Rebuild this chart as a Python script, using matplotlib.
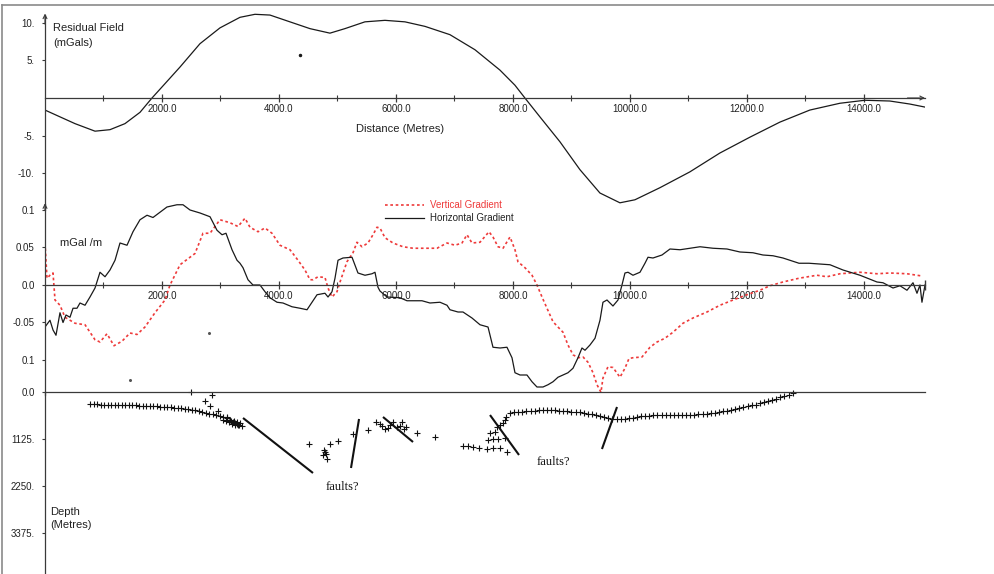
import matplotlib
matplotlib.use('Agg')
import matplotlib.pyplot as plt
from matplotlib.lines import Line2D
import numpy as np

plt.rcParams['font.family'] = ['Liberation Sans', 'DejaVu Sans']

# ---------------- DATA ----------------
# Residual field (top panel)
res_dist = [0, 256, 513, 855, 1111, 1367, 1624, 1829, 2051, 2307, 2649, 2991, 3333, 3589,
            3846, 4187, 4529, 4871, 5127, 5469, 5811, 6153, 6495, 6922, 7350, 7777, 8033,
            8204, 8460, 8802, 9144, 9486, 9828, 10084, 10511, 11023, 11536, 12049, 12562,
            13074, 13587, 14014, 14441, 14783, 15040]
res_field = [-1.6, -2.5, -3.4, -4.4, -4.2, -3.4, -1.9, 0.0, 1.9, 4.1, 7.2, 9.3, 10.7, 11.1,
             11.0, 10.1, 9.2, 8.6, 9.2, 10.1, 10.3, 10.1, 9.5, 8.4, 6.4, 3.7, 1.7,
             0.0, -2.5, -5.8, -9.5, -12.6, -13.9, -13.5, -11.9, -9.8, -7.3, -5.2, -3.2,
             -1.6, -0.7, -0.3, -0.4, -0.8, -1.2]
res_stray_x = [4359]
res_stray_y = [5.7]

# Vertical gradient (red dotted)
vg_dist = [0, 34, 85, 137, 171, 256, 342, 513, 684, 855, 940, 1060, 1179, 1316, 1453, 1573,
           1709, 1880, 2051, 2137, 2308, 2564, 2701, 2821, 2991, 3162, 3299, 3419, 3504,
           3641, 3761, 3880, 4017, 4188, 4325, 4444, 4530, 4581, 4667, 4786, 4838, 4906,
           4991, 5043, 5162, 5265, 5333, 5419, 5521, 5607, 5675, 5726, 5812, 5949, 6120,
           6291, 6496, 6701, 6872, 7009, 7128, 7214, 7299, 7436, 7590, 7658, 7744, 7829,
           7949, 8034, 8085, 8205, 8325, 8410, 8496, 8581, 8684, 8769, 8855, 8940, 9026,
           9111, 9197, 9282, 9368, 9436, 9504, 9538, 9624, 9709, 9829, 9914, 9983, 10051,
           10205, 10342, 10462, 10598, 10735, 10906, 11077, 11316, 11538, 11761, 11999,
           12221, 12392, 12614, 12888, 13196, 13367, 13590, 13932, 14222, 14445, 14735, 14991]
vg_value = [0.056, 0.009, 0.013, 0.016, -0.020, -0.027, -0.043, -0.051, -0.053, -0.073,
            -0.076, -0.065, -0.081, -0.075, -0.064, -0.066, -0.056, -0.037, -0.020, 0.0,
            0.027, 0.042, 0.069, 0.069, 0.087, 0.083, 0.078, 0.089, 0.077, 0.071, 0.076,
            0.069, 0.053, 0.047, 0.033, 0.020, 0.007, 0.007, 0.011, 0.010, -0.004, -0.016,
            -0.009, 0.004, 0.031, 0.043, 0.057, 0.051, 0.056, 0.067, 0.077, 0.076, 0.063,
            0.056, 0.051, 0.049, 0.049, 0.049, 0.056, 0.053, 0.056, 0.067, 0.056, 0.057,
            0.071, 0.064, 0.051, 0.049, 0.064, 0.047, 0.031, 0.023, 0.013, 0.0, -0.016,
            -0.031, -0.049, -0.056, -0.063, -0.080, -0.093, -0.097, -0.096, -0.103, -0.117,
            -0.133, -0.143, -0.124, -0.109, -0.110, -0.123, -0.111, -0.098, -0.097, -0.096,
            -0.083, -0.076, -0.071, -0.063, -0.051, -0.044, -0.036, -0.027, -0.020, -0.013,
            -0.007, -0.001, 0.004, 0.009, 0.013, 0.011, 0.015, 0.017, 0.015, 0.016, 0.015, 0.012]

# Horizontal gradient (black)
hg_dist = [0, 85, 137, 188, 256, 308, 359, 427, 479, 547, 598, 684, 769, 855, 940, 1026,
           1111, 1197, 1282, 1402, 1504, 1624, 1744, 1846, 1966, 2085, 2256, 2359, 2479,
           2650, 2821, 2940, 3026, 3094, 3197, 3282, 3333, 3385, 3470, 3555, 3675, 3761,
           3846, 3966, 4068, 4222, 4359, 4479, 4564, 4650, 4786, 4838, 4906, 4957, 5009,
           5094, 5248, 5350, 5470, 5590, 5641, 5692, 5726, 5846, 6068, 6188, 6444, 6581,
           6752, 6872, 6923, 7060, 7145, 7299, 7436, 7573, 7658, 7778, 7897, 7983, 8034,
           8120, 8239, 8325, 8410, 8513, 8598, 8684, 8769, 8855, 8940, 9026, 9111, 9179,
           9231, 9316, 9402, 9487, 9538, 9607, 9709, 9795, 9863, 9914, 9966, 10051, 10171,
           10256, 10308, 10393, 10547, 10684, 10855, 11026, 11197, 11419, 11658, 11880,
           12102, 12273, 12444, 12615, 12735, 12889, 13060, 13419, 13641, 13932, 14222,
           14325, 14496, 14615, 14735, 14838, 14906, 14957, 14991, 15043]
hg_value = [-0.056, -0.047, -0.060, -0.067, -0.037, -0.050, -0.040, -0.043, -0.031, -0.031,
            -0.024, -0.027, -0.016, -0.004, 0.017, 0.011, 0.020, 0.033, 0.056, 0.053, 0.071,
            0.087, 0.093, 0.090, 0.097, 0.104, 0.107, 0.107, 0.100, 0.096, 0.091, 0.073,
            0.067, 0.069, 0.047, 0.033, 0.029, 0.023, 0.007, 0.0, 0.0, -0.009, -0.017,
            -0.023, -0.024, -0.029, -0.031, -0.033, -0.023, -0.013, -0.011, -0.016, -0.009,
            0.009, 0.033, 0.036, 0.037, 0.016, 0.013, 0.015, 0.017, -0.003, -0.008, -0.016,
            -0.017, -0.021, -0.021, -0.024, -0.023, -0.027, -0.033, -0.036, -0.036, -0.044,
            -0.053, -0.056, -0.083, -0.084, -0.083, -0.097, -0.117, -0.120, -0.120, -0.129,
            -0.136, -0.136, -0.133, -0.129, -0.123, -0.120, -0.117, -0.111, -0.097, -0.084,
            -0.087, -0.080, -0.071, -0.047, -0.023, -0.020, -0.028, -0.020, 0.0, 0.016,
            0.017, 0.013, 0.017, 0.029, 0.037, 0.036, 0.040, 0.048, 0.047, 0.049, 0.051,
            0.049, 0.048, 0.044, 0.043, 0.040, 0.039, 0.036, 0.033, 0.029, 0.029, 0.027,
            0.020, 0.013, 0.004, 0.003, -0.004, -0.001, -0.007, 0.003, -0.011, 0.0, -0.023, 0.0]
grad_stray_x = [2803, 1453]
grad_stray_y = [-0.064, -0.127]

# Depth solutions (bottom panel)
left_dist = [770, 830, 890, 950, 1010, 1070, 1130, 1190, 1250, 1310, 1370, 1430, 1490, 1550,
             1610, 1670, 1730, 1790, 1850, 1910, 1970, 2030, 2090, 2150, 2210, 2270, 2330,
             2390, 2450, 2510, 2570, 2630, 2690, 2750, 2810, 2870, 2930, 2990, 3050, 3110,
             3170, 3230, 3290, 3330]
left_depth = [295, 297, 299, 301, 303, 305, 307, 309, 311, 313, 315, 318, 320, 323, 326, 330,
              334, 338, 342, 347, 352, 358, 364, 371, 378, 386, 395, 403, 415, 428, 442, 465,
              480, 498, 515, 535, 558, 580, 605, 630, 660, 690, 720, 745]
cluster_dist = [3100, 3150, 3200, 3250, 3300, 3180, 3240, 3280, 3050, 3320, 3360, 3220,
                2496, 2855, 2735, 2820, 2957, 3111,
                4513, 4752, 4786, 4821, 4770, 4800, 4872, 5009, 5265,
                5521, 5658, 5727, 5761, 5812, 5863, 5897, 5949, 6017, 6068, 6103, 6171, 6137,
                6359, 6667,
                7145, 7231, 7316, 7419, 7555, 7658, 7778, 7897, 7573, 7658, 7744, 7863, 7607,
                7692, 7726, 7778, 7829, 7863]
cluster_depth = [700, 730, 760, 780, 790, 690, 740, 760, 660, 800, 820, 720,
                 0, 72, 215, 335, 455, 598,
                 1245, 1508, 1436, 1604, 1400, 1480, 1245, 1173, 1005,
                 910, 718, 766, 814, 886, 862, 790, 718, 838, 814, 718, 838, 886,
                 981, 1077,
                 1293, 1293, 1317, 1341, 1365, 1341, 1341, 1436, 1149, 1125, 1125, 1101, 981,
                 958, 838, 790, 742, 670]
right_dist = [7880, 7950, 8020, 8090, 8160, 8230, 8300, 8370, 8440, 8510, 8580, 8650, 8720,
              8790, 8860, 8930, 9000, 9070, 9140, 9210, 9280, 9350, 9420, 9490, 9560, 9630,
              9700, 9770, 9840, 9910, 9980, 10050, 10120, 10190, 10260, 10330, 10400, 10470,
              10540, 10610, 10680, 10750, 10820, 10890, 10960, 11030, 11100, 11170, 11240,
              11310, 11380, 11450, 11520, 11590, 11660, 11730, 11800, 11870, 11940, 12010,
              12080, 12150, 12220, 12290, 12360, 12430, 12500, 12570, 12640, 12710, 12780]
right_depth = [590, 510, 485, 475, 470, 460, 455, 445, 435, 430, 432, 435, 440, 445, 452, 460,
               468, 478, 488, 500, 515, 535, 560, 585, 610, 630, 645, 650, 648, 640, 625, 615,
               600, 585, 570, 565, 560, 558, 555, 552, 550, 550, 548, 546, 545, 543, 540, 535,
               530, 520, 508, 495, 478, 462, 445, 425, 405, 385, 365, 345, 320, 300, 275, 250,
               225, 195, 165, 125, 95, 60, 30]

# Interpreted faults: (start distance, end distance), (start depth, end depth)
fault_x = [(3385, 4581), (5368, 5231), (5778, 6291), (7607, 8103), (9778, 9521)]
fault_d = [(622, 1939), (646, 1819), (598, 1197), (551, 1508), (359, 1365)]
fault_label_x = [5077, 8684]
fault_label_d = [2270, 1670]

# Tick values / labels
x_major = [2000, 4000, 6000, 8000, 10000, 12000, 14000]
x_minor = [1000, 3000, 5000, 7000, 9000, 11000, 13000]
top_yticks = [-10, -5, 5, 10]
top_ylabels = ['-10.', '-5.', '5.', '10.']
mid_yticks = [0.1, 0.05, 0.0, -0.05, -0.1]
mid_ylabels = ['0.1', '0.05', '0.0', '-0.05', '0.1']
bot_yticks = [0, 1125, 2250, 3375]
bot_ylabels = ['0.0', '1125.', '2250.', '3375.']

# ---------------- FIGURE ----------------
W, H = 995, 574
fig = plt.figure(figsize=(W / 100, H / 100), dpi=100)
fig.patch.set_facecolor('white')


def fx(px):
    return px / W


def fy(py):
    return 1 - py / H


X0, X1 = 45, 925
XMAX = 15043
AX_COL = '#3a3a3a'
TXT = '#222222'
RED = '#ee3a3a'


def add_ax(py_top, py_bot):
    ax = fig.add_axes([fx(X0), fy(py_bot), (X1 - X0) / W, (py_bot - py_top) / H])
    ax.patch.set_visible(False)
    ax.set_xlim(0, XMAX)
    for s in ax.spines.values():
        s.set_color(AX_COL)
        s.set_linewidth(0.9)
    return ax


def style_xaxis(ax):
    ax.spines['top'].set_visible(False)
    ax.spines['right'].set_visible(False)
    ax.spines['bottom'].set_position(('data', 0))
    ax.set_xticks(x_major)
    ax.set_xticklabels([f'{v:.1f}' for v in x_major])
    ax.set_xticks(x_minor, minor=True)
    ax.tick_params(axis='x', which='major', direction='inout', length=6, width=0.9,
                   pad=1, labelsize=7, colors=AX_COL, labelcolor=TXT)
    ax.tick_params(axis='x', which='minor', direction='inout', length=4, width=0.8,
                   colors=AX_COL)
    ax.tick_params(axis='y', direction='out', length=2.5, width=0.8, pad=5,
                   labelsize=7, colors=AX_COL, labelcolor=TXT)


# ---- top panel: residual field ----
ax1 = add_ax(10, 210)
ax1.set_ylim(-14.854, 11.671)
style_xaxis(ax1)
ax1.spines['left'].set_bounds(-14.854, 11.0)
ax1.set_yticks(top_yticks)
ax1.set_yticklabels(top_ylabels)
ax1.plot(res_dist, res_field, color='#1a1a1a', lw=0.9)
ax1.plot(res_stray_x, res_stray_y, 'o', color='#1a1a1a', ms=1.5)
ax1.annotate('', xy=(0, 11.2), xytext=(0, 9.8), annotation_clip=False,
             arrowprops=dict(arrowstyle='->', color=AX_COL, lw=0.8,
                             shrinkA=0, shrinkB=0, mutation_scale=7))
ax1.annotate('', xy=(XMAX, 0), xytext=(XMAX - 300, 0), annotation_clip=False,
             arrowprops=dict(arrowstyle='->', color=AX_COL, lw=0.8,
                             shrinkA=0, shrinkB=0, mutation_scale=7))

# ---- middle panel: gradients ----
ax2 = add_ax(198, 395)
ax2.set_ylim(-0.14667, 0.116)
style_xaxis(ax2)
ax2.spines['left'].set_bounds(-0.14667, 0.108)
ax2.set_yticks(mid_yticks)
ax2.set_yticklabels(mid_ylabels)
l_vg, = ax2.plot(vg_dist, vg_value, color=RED, lw=1.2, ls=(0, (1.6, 1.6)),
                 label='Vertical Gradient')
l_hg, = ax2.plot(hg_dist, hg_value, color='#1a1a1a', lw=0.9,
                 label='Horizontal Gradient')
ax2.plot(grad_stray_x, grad_stray_y, 'o', color='#555555', ms=1.2)
ax2.annotate('', xy=(0, 0.109), xytext=(0, 0.100), annotation_clip=False,
             arrowprops=dict(arrowstyle='->', color=AX_COL, lw=0.8,
                             shrinkA=0, shrinkB=0, mutation_scale=7))
ax2.plot([XMAX], [0], marker='|', color=AX_COL, ms=7, mew=1.0, clip_on=False)
leg = ax2.legend(handles=[l_vg, l_hg], loc='upper left',
                 bbox_to_anchor=(fx(385), fy(200)), bbox_transform=fig.transFigure,
                 frameon=False, fontsize=7, handlelength=4.0, handletextpad=0.6,
                 labelspacing=0.35, borderpad=0, borderaxespad=0)
for txt, col in zip(leg.get_texts(), [RED, TXT]):
    txt.set_color(col)

# ---- bottom panel: depth solutions ----
ax3 = add_ax(392, 574)
ax3.set_ylim(4357, 0)
ax3.spines['right'].set_visible(False)
ax3.spines['bottom'].set_visible(False)
ax3.set_xticks([])
ax3.set_yticks(bot_yticks)
ax3.set_yticklabels(bot_ylabels)
ax3.tick_params(axis='y', direction='out', length=2.5, width=0.8, pad=5,
                labelsize=7, colors=AX_COL, labelcolor=TXT)
mk = dict(marker='+', color='#111111', ms=5, mew=0.8, ls='none', clip_on=False)
ax3.plot(left_dist, left_depth, **mk)
ax3.plot(cluster_dist, cluster_depth, **mk)
ax3.plot(right_dist, right_depth, **mk)
for (xa, xb), (da, db) in zip(fault_x, fault_d):
    ax3.plot([xa, xb], [da, db], color='#111111', lw=1.5, solid_capstyle='butt')
for xl, dl in zip(fault_label_x, fault_label_d):
    ax3.text(xl, dl, 'faults?', family=['Liberation Serif', 'DejaVu Serif'],
             fontsize=9, ha='center', va='center', color='#111111')

# ---- free text labels ----
fig.text(fx(53), fy(28), 'Residual Field', fontsize=8, color=TXT, va='center', ha='left')
fig.text(fx(53), fy(43), '(mGals)', fontsize=8, color=TXT, va='center', ha='left')
fig.text(fx(400), fy(129), 'Distance (Metres)', fontsize=8, color=TXT, va='center', ha='center')
fig.text(fx(60), fy(243), 'mGal /m', fontsize=8, color=TXT, va='center', ha='left')
fig.text(fx(50), fy(512), 'Depth', fontsize=8, color=TXT, va='center', ha='left')
fig.text(fx(50), fy(525), '(Metres)', fontsize=8, color=TXT, va='center', ha='left')

# ---- outer frame (left and top edges) ----
fig.add_artist(Line2D([fx(2.5), fx(2.5)], [0, fy(5)], transform=fig.transFigure,
                      color='#8a8a8a', lw=1.2))
fig.add_artist(Line2D([fx(2.5), 1], [fy(5), fy(5)], transform=fig.transFigure,
                      color='#8a8a8a', lw=1.2))

fig.savefig('out.png', dpi=100, facecolor='white')
